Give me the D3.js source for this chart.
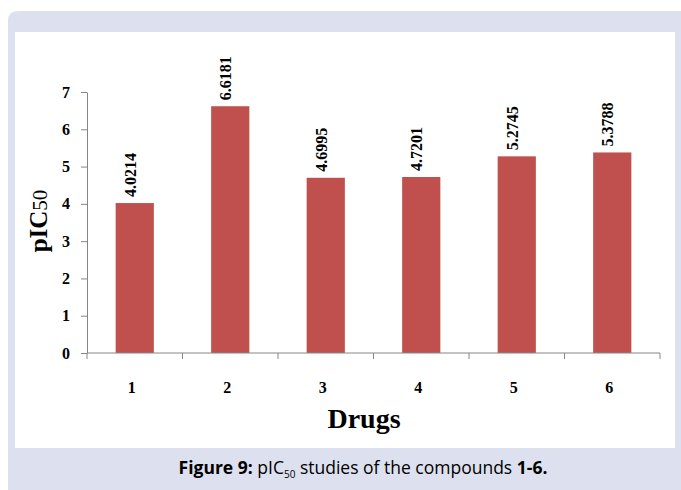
<!DOCTYPE html>
<html>
<head>
<meta charset="utf-8">
<script src="https://cdn.jsdelivr.net/npm/d3@7/dist/d3.min.js"></script>
<style>
  html, body { margin: 0; padding: 0; background: #ffffff; }
  svg { display: block; }
</style>
</head>
<body>
<svg id="chart" width="681" height="490"></svg>
<script>
// pIC50 values of compounds 1-6
const drugs = ["1", "2", "3", "4", "5", "6"];
const pic50 = [4.0214, 6.6181, 4.6995, 4.7201, 5.2745, 5.3788];
const valueLabels = ["4.0214", "6.6181", "4.6995", "4.7201", "5.2745", "5.3788"];
const yTicks = [0, 1, 2, 3, 4, 5, 6, 7];

const svg = d3.select("#chart");

// figure panel
svg.append("path")
  .attr("d", "M8,21 Q8,11 18,11 L681,11 L681,490 L8,490 Z")
  .attr("fill", "#dde0ee");
svg.append("rect")
  .attr("x", 15).attr("y", 32)
  .attr("width", 660).attr("height", 416)
  .attr("fill", "#ffffff");

const plotL = 87, plotR = 660, plotT = 92, plotB = 353;

const x = d3.scaleBand().domain(drugs).range([plotL, plotR]).paddingInner(0.6).paddingOuter(0.3);
const xb = d3.scaleBand().domain(drugs).range([plotL, plotR]);
const y = d3.scaleLinear().domain([0, 7]).range([plotB, plotT]);

const serif = "'Liberation Serif', 'Times New Roman', serif";

// bars
svg.append("g").selectAll("rect")
  .data(drugs)
  .join("rect")
  .attr("x", d => x(d))
  .attr("width", x.bandwidth())
  .attr("y", (d, i) => y(pic50[i]))
  .attr("height", (d, i) => y(0) - y(pic50[i]))
  .attr("fill", "#c0504d");

// value labels, rotated
svg.append("g").selectAll("text")
  .data(drugs)
  .join("text")
  .attr("transform", (d, i) => `translate(${x(d) + x.bandwidth() / 2 + 1},${y(pic50[i]) - 6}) rotate(-90)`)
  .attr("text-anchor", "start")
  .attr("font-family", serif)
  .attr("font-weight", "bold")
  .attr("font-size", 16)
  .attr("fill", "#000")
  .text((d, i) => valueLabels[i]);

// y axis
const yAxis = svg.append("g")
  .attr("transform", `translate(${plotL},0)`)
  .call(d3.axisLeft(y).tickValues(yTicks).tickFormat(d3.format("d")).tickSize(6).tickSizeOuter(0));
yAxis.select(".domain").attr("stroke", "#868686");
yAxis.selectAll(".tick line").attr("stroke", "#868686");
yAxis.selectAll(".tick text")
  .attr("x", -17)
  .attr("font-family", serif)
  .attr("font-weight", "bold")
  .attr("font-size", 16)
  .attr("fill", "#000");

// x axis with ticks on band boundaries
const xAxisG = svg.append("g").attr("transform", `translate(0,${plotB})`);
xAxisG.append("line")
  .attr("x1", plotL).attr("x2", plotR)
  .attr("stroke", "#868686");
const boundaries = drugs.map(d => xb(d)).concat([plotR]);
xAxisG.selectAll("line.tk")
  .data(boundaries)
  .join("line")
  .attr("class", "tk")
  .attr("x1", d => d).attr("x2", d => d)
  .attr("y1", 0).attr("y2", 6)
  .attr("stroke", "#868686");
xAxisG.selectAll("text")
  .data(drugs)
  .join("text")
  .attr("x", d => xb(d) + xb.bandwidth() / 2 - 3)
  .attr("y", 40)
  .attr("text-anchor", "middle")
  .attr("font-family", serif)
  .attr("font-weight", "bold")
  .attr("font-size", 16)
  .attr("fill", "#000")
  .text(d => d);

// axis titles
svg.append("text")
  .attr("x", 364)
  .attr("y", 428)
  .attr("text-anchor", "middle")
  .attr("font-family", serif)
  .attr("font-weight", "bold")
  .attr("font-size", 28)
  .attr("fill", "#000")
  .text("Drugs");

const yTitle = svg.append("text")
  .attr("transform", "translate(47,221) rotate(-90)")
  .attr("text-anchor", "middle")
  .attr("font-family", serif)
  .attr("font-size", 25)
  .attr("fill", "#000");
yTitle.append("tspan").attr("font-weight", "bold").text("pIC");
yTitle.append("tspan").attr("font-size", 21).text("50");

// caption
const cap = svg.append("text")
  .attr("x", 363)
  .attr("y", 474)
  .attr("text-anchor", "middle")
  .attr("font-family", "'Open Sans', 'Noto Sans', sans-serif")
  .attr("font-size", 17.5)
  .attr("fill", "#000");
cap.append("tspan").attr("font-weight", "bold").text("Figure 9: ");
cap.append("tspan").text("pIC");
cap.append("tspan").attr("font-size", 10).attr("dy", 4).text("50");
cap.append("tspan").attr("dy", -4).text(" studies of the compounds ");
cap.append("tspan").attr("font-weight", "bold").text("1-6.");
</script>
</body>
</html>
